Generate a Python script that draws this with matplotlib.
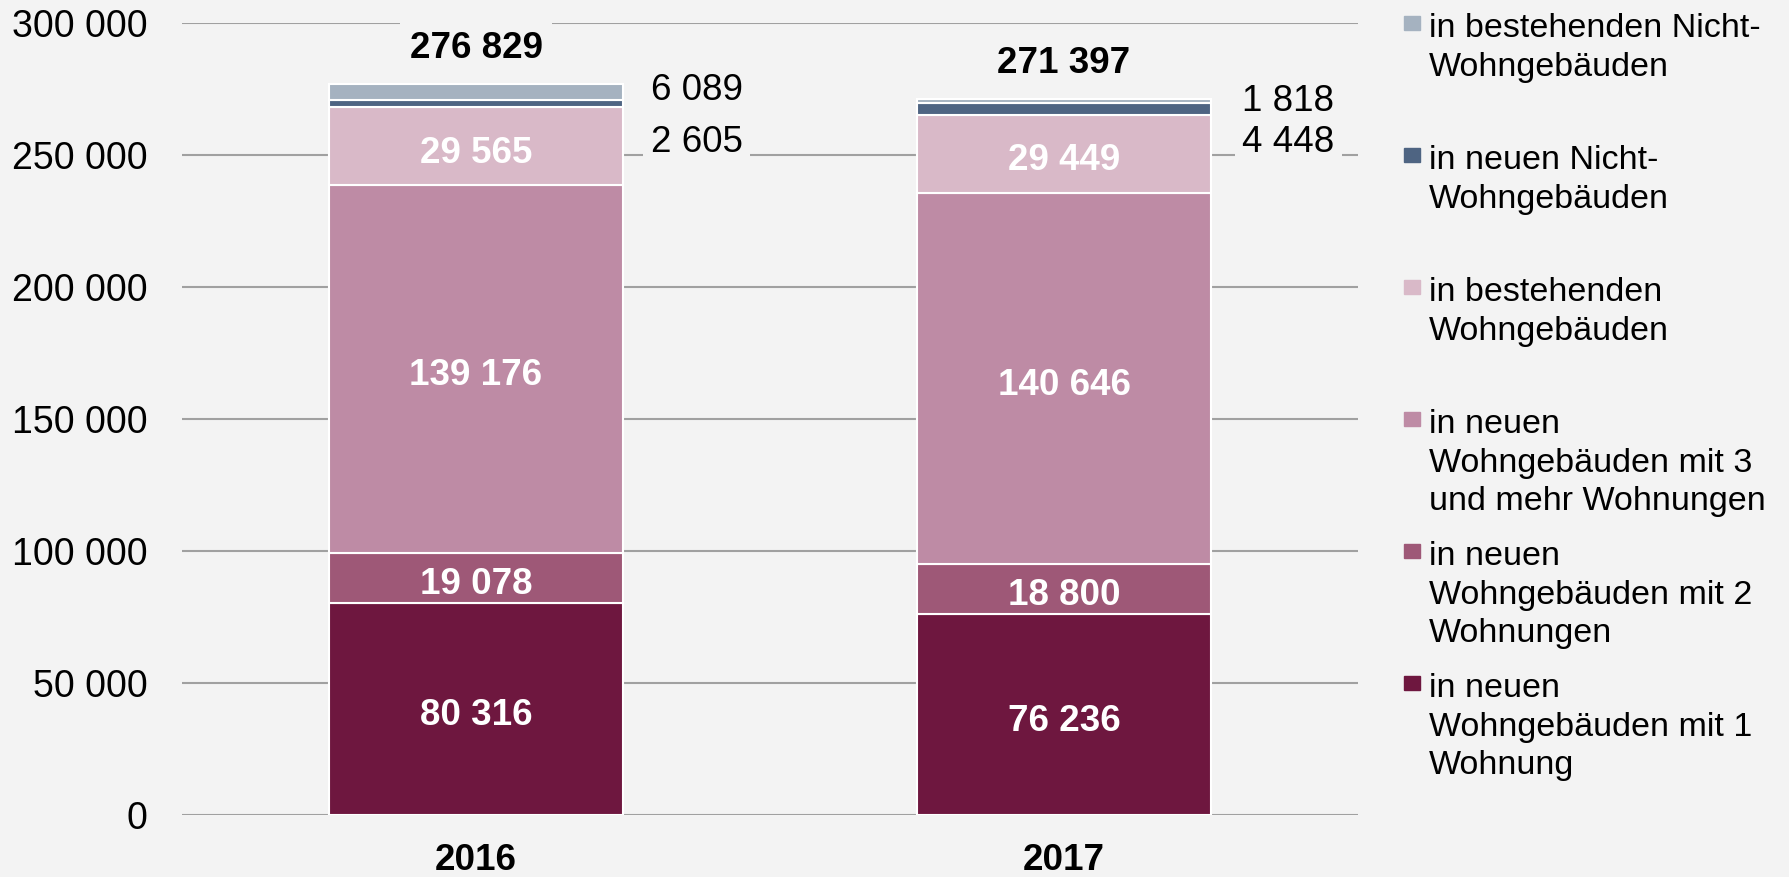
import matplotlib
matplotlib.use("Agg")
import matplotlib.pyplot as plt
import numpy as np

plt.rcParams['font.family'] = ['Liberation Sans', 'DejaVu Sans']

years = ["2016", "2017"]
series_names = [
    "in neuen\nWohngebäuden mit 1\nWohnung",
    "in neuen\nWohngebäuden mit 2\nWohnungen",
    "in neuen\nWohngebäuden mit 3\nund mehr Wohnungen",
    "in bestehenden\nWohngebäuden",
    "in neuen Nicht-\nWohngebäuden",
    "in bestehenden Nicht-\nWohngebäuden",
]
one_flat = [80316, 76236]
two_flats = [19078, 18800]
three_plus = [139176, 140646]
existing_res = [29565, 29449]
new_nonres = [2605, 4448]
existing_nonres = [6089, 1818]
series = [one_flat, two_flats, three_plus, existing_res, new_nonres, existing_nonres]
yticks = [0, 50000, 100000, 150000, 200000, 250000, 300000]

colors = ["#6e173f", "#9e5877", "#be8ba5", "#d9b9c8", "#4e6482", "#a5b2c0"]
bg = "#f3f3f3"

def fmt(v):
    return f"{v:,}".replace(",", " ")

fig = plt.figure(figsize=(17.89, 8.77), dpi=100, facecolor=bg)
ax = fig.add_axes([182/1789, 62/877, (1358-182)/1789, (815-23)/877])
ax.set_facecolor(bg)

x = np.arange(len(years))
bottom = np.zeros(len(years))
for vals, col, name in zip(series, colors, series_names):
    ax.bar(x, vals, width=0.5, bottom=bottom, color=col, edgecolor="white",
           linewidth=1.5, label=name, zorder=3)
    bottom = bottom + np.array(vals)

# inner labels (first four series)
for k in range(4):
    for i in range(len(years)):
        v = series[k][i]
        yc = sum(series[j][i] for j in range(k)) + v / 2
        ax.annotate(fmt(v), (x[i], yc), xytext=(0, -5), textcoords="offset points",
                    ha="center", va="center", color="white",
                    fontsize=26.5, fontweight="bold", zorder=5)

totals = bottom
for i in range(len(years)):
    ax.annotate(fmt(int(totals[i])), (x[i], totals[i]), xytext=(0, 25.5),
                textcoords="offset points", ha="center", va="center",
                fontsize=26.5, fontweight="bold", color="black", zorder=6,
                bbox=dict(boxstyle="square,pad=0.25", fc=bg, ec="none"))

# side labels for the small top segments
side_offsets = [(-4.5, -42), (-2, -32)]  # points: (upper label, lower label)
side_dx = [53, 55.5]
for i in range(len(years)):
    up_off, low_off = side_offsets[i]
    ax.annotate(fmt(existing_nonres[i]), (x[i] + 0.25, totals[i]),
                xytext=(side_dx[i], up_off), textcoords="offset points",
                ha="center", va="center", fontsize=26.5, zorder=6,
                bbox=dict(boxstyle="square,pad=0.2", fc=bg, ec="none"))
    ax.annotate(fmt(new_nonres[i]), (x[i] + 0.25, totals[i]),
                xytext=(side_dx[i], low_off), textcoords="offset points",
                ha="center", va="center", fontsize=26.5, zorder=6,
                bbox=dict(boxstyle="square,pad=0.2", fc=bg, ec="none"))

ax.set_xlim(-0.5, 1.5)
ax.set_ylim(0, 300000)
ax.set_yticks(yticks)
ax.set_yticklabels([fmt(t) for t in yticks], fontsize=27)
ax.set_xticks(x)
ax.set_xticklabels(years, fontsize=26.5, fontweight="bold")
ax.tick_params(axis="y", length=0, pad=25)
ax.tick_params(axis="x", length=0, pad=20.5)
ax.grid(axis="y", color="#a0a0a0", linewidth=1.5, zorder=1)
ax.set_axisbelow(True)
for s in ax.spines.values():
    s.set_visible(False)

# legend: each entry aligned with a gridline level (top to bottom)
leg_x = 1404 / 1789
for k, (name, col) in enumerate(zip(series_names[::-1], colors[::-1])):
    ylev = yticks[::-1][k]
    yfig = (62 + (815 - 23) * ylev / 300000) / 877
    fig.patches.append(plt.Rectangle((leg_x, yfig - 7/877), 16/1789, 14/877,
                                     transform=fig.transFigure, color=col))
    fig.text(1429/1789, yfig + 10/877, name, ha="left", va="top", fontsize=24.5,
             linespacing=1.32)

fig.savefig("out.png", dpi=100, facecolor=bg)
